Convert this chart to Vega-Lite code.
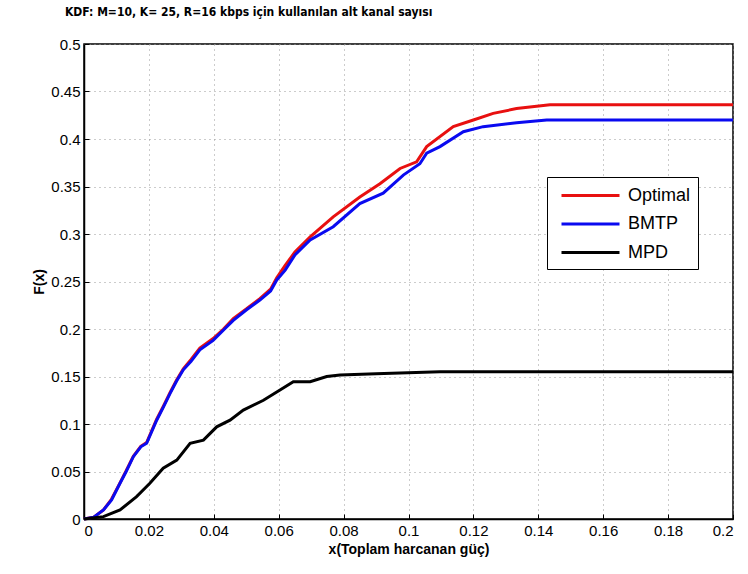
{
  "$schema": "https://vega.github.io/schema/vega-lite/v6.json",
  "autosize": "none",
  "width": 649,
  "height": 475,
  "padding": {"left": 84, "top": 44, "right": 15, "bottom": 55},
  "background": "white",
  "title": {
    "text": "KDF: M=10, K= 25, R=16 kbps için kullanılan alt kanal sayısı",
    "font": "DejaVu Sans Condensed",
    "fontSize": 12,
    "fontWeight": "bold",
    "color": "#000000",
    "anchor": "start",
    "frame": "group",
    "dx": -19,
    "offset": 18
  },
  "config": {
    "view": {"stroke": "#000000", "strokeWidth": 1.5},
    "axis": {
      "labelFont": "Liberation Sans",
      "labelFontSize": 15,
      "labelColor": "#000000",
      "titleFont": "Liberation Sans",
      "titleFontSize": 14,
      "titleFontWeight": "bold",
      "titleColor": "#000000",
      "domainColor": "#000000",
      "domainWidth": 1.5,
      "tickColor": "#000000",
      "tickSize": -5,
      "labelPadding": 9,
      "grid": true,
      "gridColor": "#999999",
      "gridDash": [1, 4],
      "gridWidth": 1
    }
  },
  "data": {
    "values": [
      {"x": 0, "y": 0, "s": "Optimal"},
      {"x": 0.003, "y": 0.002, "s": "Optimal"},
      {"x": 0.006, "y": 0.0095, "s": "Optimal"},
      {"x": 0.0085, "y": 0.021, "s": "Optimal"},
      {"x": 0.0111, "y": 0.038, "s": "Optimal"},
      {"x": 0.013, "y": 0.051, "s": "Optimal"},
      {"x": 0.0152, "y": 0.066, "s": "Optimal"},
      {"x": 0.0175, "y": 0.0765, "s": "Optimal"},
      {"x": 0.0193, "y": 0.0805, "s": "Optimal"},
      {"x": 0.0224, "y": 0.105, "s": "Optimal"},
      {"x": 0.0245, "y": 0.119, "s": "Optimal"},
      {"x": 0.0265, "y": 0.133, "s": "Optimal"},
      {"x": 0.0285, "y": 0.146, "s": "Optimal"},
      {"x": 0.0306, "y": 0.158, "s": "Optimal"},
      {"x": 0.033, "y": 0.168, "s": "Optimal"},
      {"x": 0.0357, "y": 0.18, "s": "Optimal"},
      {"x": 0.0398, "y": 0.19, "s": "Optimal"},
      {"x": 0.043, "y": 0.2, "s": "Optimal"},
      {"x": 0.046, "y": 0.211, "s": "Optimal"},
      {"x": 0.05, "y": 0.221, "s": "Optimal"},
      {"x": 0.0542, "y": 0.232, "s": "Optimal"},
      {"x": 0.0575, "y": 0.242, "s": "Optimal"},
      {"x": 0.0594, "y": 0.254, "s": "Optimal"},
      {"x": 0.062, "y": 0.267, "s": "Optimal"},
      {"x": 0.065, "y": 0.281, "s": "Optimal"},
      {"x": 0.0697, "y": 0.297, "s": "Optimal"},
      {"x": 0.0768, "y": 0.318, "s": "Optimal"},
      {"x": 0.085, "y": 0.339, "s": "Optimal"},
      {"x": 0.0912, "y": 0.353, "s": "Optimal"},
      {"x": 0.0974, "y": 0.369, "s": "Optimal"},
      {"x": 0.1025, "y": 0.376, "s": "Optimal"},
      {"x": 0.1056, "y": 0.392, "s": "Optimal"},
      {"x": 0.1138, "y": 0.413, "s": "Optimal"},
      {"x": 0.12, "y": 0.42, "s": "Optimal"},
      {"x": 0.1261, "y": 0.427, "s": "Optimal"},
      {"x": 0.1333, "y": 0.432, "s": "Optimal"},
      {"x": 0.1436, "y": 0.436, "s": "Optimal"},
      {"x": 0.2, "y": 0.436, "s": "Optimal"},

      {"x": 0, "y": 0, "s": "BMTP"},
      {"x": 0.003, "y": 0.002, "s": "BMTP"},
      {"x": 0.006, "y": 0.0095, "s": "BMTP"},
      {"x": 0.0085, "y": 0.02, "s": "BMTP"},
      {"x": 0.0111, "y": 0.0376, "s": "BMTP"},
      {"x": 0.013, "y": 0.05, "s": "BMTP"},
      {"x": 0.0152, "y": 0.0656, "s": "BMTP"},
      {"x": 0.0175, "y": 0.076, "s": "BMTP"},
      {"x": 0.0193, "y": 0.0797, "s": "BMTP"},
      {"x": 0.0224, "y": 0.104, "s": "BMTP"},
      {"x": 0.0245, "y": 0.118, "s": "BMTP"},
      {"x": 0.0265, "y": 0.132, "s": "BMTP"},
      {"x": 0.0285, "y": 0.145, "s": "BMTP"},
      {"x": 0.0306, "y": 0.157, "s": "BMTP"},
      {"x": 0.033, "y": 0.166, "s": "BMTP"},
      {"x": 0.0357, "y": 0.178, "s": "BMTP"},
      {"x": 0.0398, "y": 0.188, "s": "BMTP"},
      {"x": 0.043, "y": 0.199, "s": "BMTP"},
      {"x": 0.046, "y": 0.209, "s": "BMTP"},
      {"x": 0.05, "y": 0.22, "s": "BMTP"},
      {"x": 0.0542, "y": 0.2305, "s": "BMTP"},
      {"x": 0.0575, "y": 0.24, "s": "BMTP"},
      {"x": 0.0594, "y": 0.2516, "s": "BMTP"},
      {"x": 0.062, "y": 0.262, "s": "BMTP"},
      {"x": 0.065, "y": 0.278, "s": "BMTP"},
      {"x": 0.0697, "y": 0.2937, "s": "BMTP"},
      {"x": 0.0768, "y": 0.3077, "s": "BMTP"},
      {"x": 0.085, "y": 0.332, "s": "BMTP"},
      {"x": 0.0922, "y": 0.343, "s": "BMTP"},
      {"x": 0.0984, "y": 0.362, "s": "BMTP"},
      {"x": 0.1035, "y": 0.374, "s": "BMTP"},
      {"x": 0.1056, "y": 0.385, "s": "BMTP"},
      {"x": 0.1097, "y": 0.392, "s": "BMTP"},
      {"x": 0.1169, "y": 0.4077, "s": "BMTP"},
      {"x": 0.123, "y": 0.413, "s": "BMTP"},
      {"x": 0.1333, "y": 0.417, "s": "BMTP"},
      {"x": 0.1426, "y": 0.42, "s": "BMTP"},
      {"x": 0.2, "y": 0.42, "s": "BMTP"},

      {"x": 0, "y": 0, "s": "MPD"},
      {"x": 0.006, "y": 0.0025, "s": "MPD"},
      {"x": 0.0111, "y": 0.0095, "s": "MPD"},
      {"x": 0.0162, "y": 0.0235, "s": "MPD"},
      {"x": 0.0203, "y": 0.0376, "s": "MPD"},
      {"x": 0.0244, "y": 0.0534, "s": "MPD"},
      {"x": 0.0286, "y": 0.062, "s": "MPD"},
      {"x": 0.0327, "y": 0.0797, "s": "MPD"},
      {"x": 0.0368, "y": 0.083, "s": "MPD"},
      {"x": 0.0409, "y": 0.097, "s": "MPD"},
      {"x": 0.045, "y": 0.104, "s": "MPD"},
      {"x": 0.0491, "y": 0.1147, "s": "MPD"},
      {"x": 0.0553, "y": 0.125, "s": "MPD"},
      {"x": 0.0604, "y": 0.1358, "s": "MPD"},
      {"x": 0.0645, "y": 0.1445, "s": "MPD"},
      {"x": 0.0697, "y": 0.1445, "s": "MPD"},
      {"x": 0.0748, "y": 0.15, "s": "MPD"},
      {"x": 0.0789, "y": 0.1516, "s": "MPD"},
      {"x": 0.09, "y": 0.153, "s": "MPD"},
      {"x": 0.1097, "y": 0.155, "s": "MPD"},
      {"x": 0.2, "y": 0.155, "s": "MPD"}
    ]
  },
  "mark": {"type": "line", "strokeWidth": 3, "interpolate": "linear"},
  "encoding": {
    "x": {
      "field": "x",
      "type": "quantitative",
      "scale": {"domain": [0, 0.2], "nice": false},
      "axis": {"values": [0, 0.02, 0.04, 0.06, 0.08, 0.1, 0.12, 0.14, 0.16, 0.18, 0.2], "format": "~g", "title": "x(Toplam harcanan güç)", "titlePadding": 4}
    },
    "y": {
      "field": "y",
      "type": "quantitative",
      "scale": {"domain": [0, 0.5], "nice": false},
      "axis": {"values": [0, 0.05, 0.1, 0.15, 0.2, 0.25, 0.3, 0.35, 0.4, 0.45, 0.5], "format": "~g", "title": "F(x)", "titlePadding": 4}
    },
    "color": {
      "field": "s",
      "type": "nominal",
      "scale": {"domain": ["Optimal", "BMTP", "MPD"], "range": ["#e81010", "#0a0af0", "#000000"]},
      "legend": {
        "title": null,
        "orient": "none",
        "legendX": 463,
        "legendY": 133,
        "symbolType": "M-2.9,0H2.9",
        "symbolSize": 400,
        "symbolStrokeWidth": 3,
        "symbolOffset": 25,
        "labelOffset": 26,
        "labelFont": "Liberation Sans",
        "labelFontSize": 18,
        "labelColor": "#000000",
        "rowPadding": 7.5,
        "padding": 7,
        "strokeColor": "#000000",
        "fillColor": "#ffffff",
        "cornerRadius": 0
      }
    },
    "order": {"field": "x", "type": "quantitative"}
  }
}
